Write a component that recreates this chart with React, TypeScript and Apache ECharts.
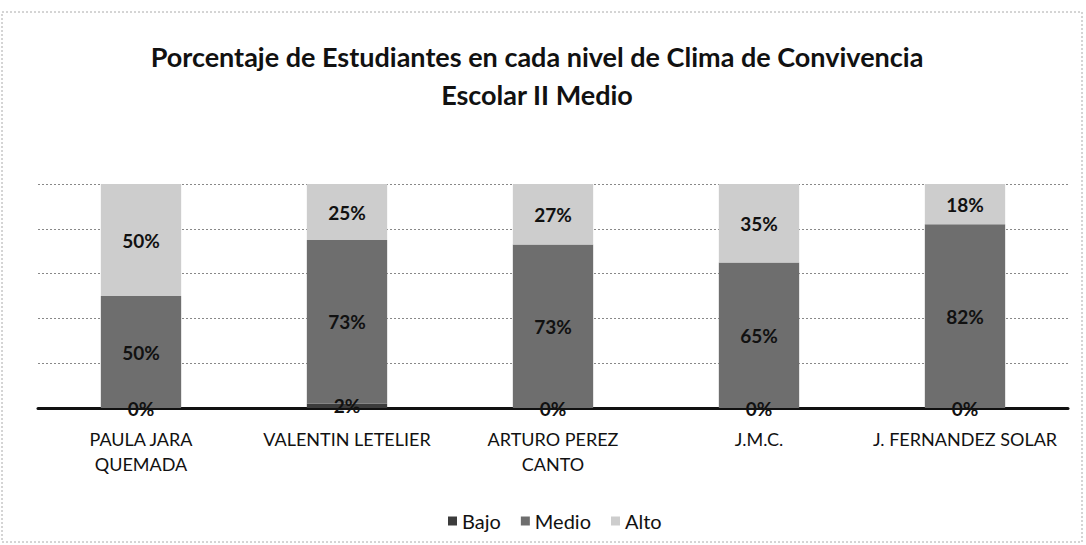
import React, { useEffect, useRef } from "react";
import * as echarts from "echarts";

const categories = [
  "PAULA JARA\nQUEMADA",
  "VALENTIN LETELIER",
  "ARTURO PEREZ\nCANTO",
  "J.M.C.",
  "J. FERNANDEZ SOLAR",
];
const bajo = [0, 2, 0, 0, 0];
const medio = [50, 73, 73, 65, 82];
const alto = [50, 25, 27, 35, 18];
const titleText = "Porcentaje de Estudiantes en cada nivel de Clima de Convivencia\nEscolar II Medio";

export default function App() {
  const ref = useRef<HTMLDivElement>(null);
  useEffect(() => {
    if (!ref.current) return;
    const chart = echarts.init(ref.current, undefined, { renderer: "svg" });
    const font = "Lato, 'Open Sans', sans-serif";
    const label = {
      show: true,
      position: "inside" as const,
      formatter: (p: any) => `${p.value}%`,
      fontFamily: font,
      fontWeight: "bold" as const,
      fontSize: 19,
      color: "#111",
    };
    chart.setOption({
      animation: false,
      backgroundColor: "#fff",
      title: {
        text: titleText,
        left: 532,
        top: 32,
        textAlign: "center",
        textStyle: {
          fontFamily: font,
          fontWeight: "bold",
          fontSize: 27,
          lineHeight: 38,
          color: "#111",
        },
      },
      graphic: [
        {
          type: "rect",
          shape: { x: 2, y: 12, width: 1080, height: 530 },
          style: { fill: "none", stroke: "#aaa", lineWidth: 1, lineDash: [2, 2] },
          silent: true,
        },
      ],
      legend: {
        top: 506,
        left: 443,
        itemWidth: 9,
        itemHeight: 9,
        itemGap: 20,
        icon: "rect",
        textStyle: { fontFamily: font, fontSize: 20, color: "#111" },
        data: ["Bajo", "Medio", "Alto"],
      },
      grid: { left: 38, right: 18, top: 184, bottom: 137, containLabel: false },
      xAxis: {
        type: "category",
        data: categories,
        axisLine: { lineStyle: { color: "#111", width: 3 } },
        axisTick: { show: false },
        axisLabel: {
          fontFamily: font,
          fontSize: 18,
          color: "#111",
          lineHeight: 25,
          margin: 18,
          interval: 0,
        },
      },
      yAxis: {
        type: "value",
        min: 0,
        max: 100,
        interval: 20,
        axisLabel: { show: false },
        axisLine: { show: false },
        axisTick: { show: false },
        splitLine: { lineStyle: { color: "#888", type: [2, 2], width: 1 } },
      },
      series: [
        {
          name: "Bajo",
          type: "bar",
          stack: "total",
          data: bajo,
          barWidth: "39%",
          itemStyle: { color: "#3c3c3c" },
          label,
        },
        {
          name: "Medio",
          type: "bar",
          stack: "total",
          data: medio,
          itemStyle: { color: "#6e6e6e" },
          label,
        },
        {
          name: "Alto",
          type: "bar",
          stack: "total",
          data: alto,
          itemStyle: { color: "#cdcdcd" },
          label,
        },
      ],
    });
    return () => chart.dispose();
  }, []);
  return <div ref={ref} style={{ width: 1086, height: 545, position: "absolute", left: 0, top: 0 }} />;
}
